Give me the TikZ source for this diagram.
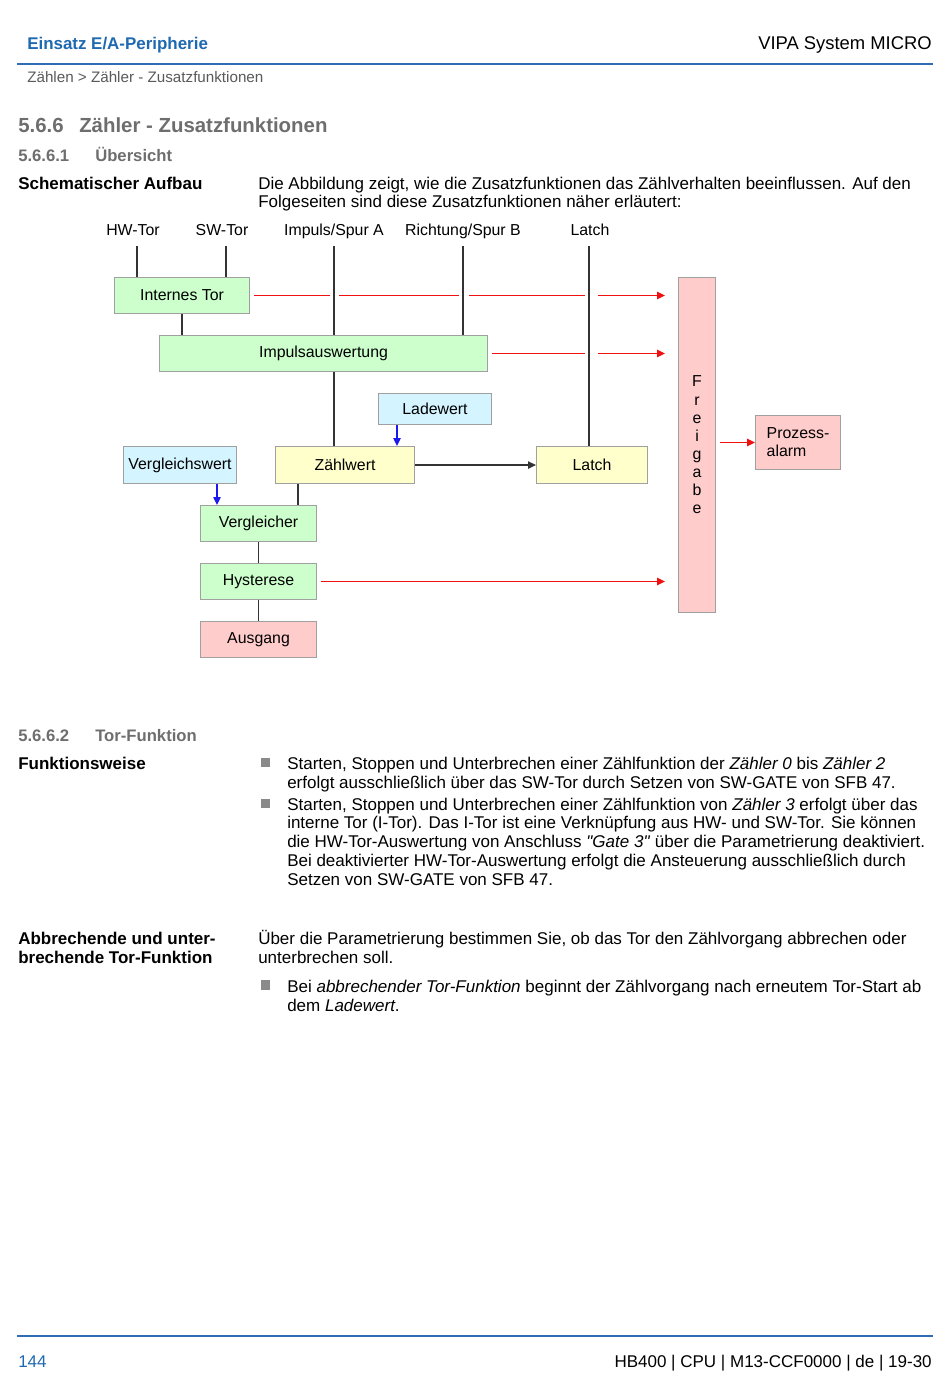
\documentclass[tikz,border=0pt]{standalone}
\usepackage{fontspec}
\setmainfont{Liberation Sans}
\usetikzlibrary{arrows.meta,calc}
\definecolor{hblue}{HTML}{1F69B0}
\definecolor{lblue}{HTML}{2F6DB5}
\definecolor{hgray}{HTML}{6E6E6E}
\definecolor{bcgray}{HTML}{5A5A5A}
\definecolor{bulgray}{HTML}{8A8A8A}
\definecolor{boxline}{HTML}{A0A0A0}
\definecolor{fgreen}{HTML}{CCFFCC}
\definecolor{fcyan}{HTML}{D4F5FF}
\definecolor{fyellow}{HTML}{FFFFCC}
\definecolor{fpink}{HTML}{FFCCCC}
\definecolor{redl}{HTML}{F01010}
\definecolor{bluel}{HTML}{1A1AEE}
\definecolor{darkl}{HTML}{333333}
\newcommand\bodyf{\fontsize{12.75}{14.25}\selectfont}
\newcommand\diagf{\fontsize{11.9}{13.5}\selectfont}
\begin{document}
\begin{tikzpicture}[x=0.75pt,y=-0.75pt,
  tx/.style={inner sep=0pt, font=\bodyf},
  bx/.style={draw=boxline, line width=0.8pt, inner sep=0pt, anchor=north west, font=\diagf, align=center},
  sz/.style 2 args={minimum width=#1*0.75pt, minimum height=#2*0.75pt},
  gbox/.style={bx, fill=fgreen},
  cbox/.style={bx, fill=fcyan},
  ybox/.style={bx, fill=fyellow},
  pbox/.style={bx, fill=fpink},
  ln/.style={draw=darkl, line width=0.9pt},
  redline/.style={draw=redl, line width=1.35pt},
  ra/.style={redline, -{Triangle[length=6pt,width=5.5pt]}},
  ba/.style={draw=bluel, line width=1pt, -{Triangle[length=6pt,width=5.5pt]}},
  ka/.style={ln, -{Triangle[length=6pt,width=5.5pt]}},
  lab/.style={inner sep=0pt, font=\diagf, anchor=base},
  bul/.style={fill=bulgray, inner sep=0pt, minimum size=7pt},
]
\useasboundingbox (0,0) rectangle (950,1375);
\fill[white] (0,0) rectangle (950,1375);

% header
\node[tx, anchor=base west, font=\fontsize{12.7}{15}\selectfont\bfseries, text=hblue] (hdl) at (27,49) {Einsatz E/A-Peripherie};
\node[tx, anchor=base east, font=\fontsize{13.8}{16}\selectfont] (hdr) at (932,49.5) {VIPA System MICRO};
\coordinate (hl1) at (17,64); \coordinate (hl2) at (933,64);
\draw[lblue, line width=1.5pt] (hl1) -- (hl2);
\node[tx, anchor=base west, font=\fontsize{11.4}{14}\selectfont, text=bcgray] (bc) at (27,82) {Zählen > Zähler - Zusatzfunktionen};

% headings
\node[tx, anchor=base west, font=\fontsize{15.3}{18}\selectfont\bfseries, text=hgray] (h1n) at (18,132) {5.6.6};
\node[tx, anchor=base west, font=\fontsize{15.3}{18}\selectfont\bfseries, text=hgray] (h1t) at (79,132) {Zähler - Zusatzfunktionen};
\node[tx, anchor=base west, font=\fontsize{12.5}{15}\selectfont\bfseries, text=hgray] (h2n) at (18,161) {5.6.6.1};
\node[tx, anchor=base west, font=\fontsize{12.5}{15}\selectfont\bfseries, text=hgray] (h2t) at (95,161) {Übersicht};

\node[tx, anchor=base west, font=\bodyf\bfseries] (sa) at (18,189) {Schematischer Aufbau};
\node[tx, anchor=base west] (p1a) at (258,189) {Die Abbildung zeigt, wie die Zusatzfunktionen das Zählverhalten beeinflussen. Auf den};
\node[tx, anchor=base west] (p1b) at (258,207) {Folgeseiten sind diese Zusatzfunktionen näher erläutert:};

% diagram labels
\node[lab] (lhw) at (133,235) {HW-Tor};
\node[lab] (lsw) at (222,235) {SW-Tor};
\node[lab] (limp) at (334,235) {Impuls/Spur A};
\node[lab] (lri) at (463,235) {Richtung/Spur B};
\node[lab] (llat) at (590,235) {Latch};

% boxes
\node[gbox, sz={135}{36}] (it) at (114,277) {Internes Tor};
\node[gbox, sz={328}{36}] (ia) at (159,335) {Impulsauswertung};
\node[cbox, sz={113}{31}] (lw) at (378,393) {Ladewert};
\node[cbox, sz={113}{37}] (vw) at (123,446) {Vergleichswert};
\node[ybox, sz={139}{37}] (zw) at (275,446) {Zählwert};
\node[ybox, sz={111}{37}] (la) at (536,446) {Latch};
\node[gbox, sz={116}{36}] (vg) at (200,505) {Vergleicher};
\node[gbox, sz={116}{36}] (hy) at (200,563) {Hysterese};
\node[pbox, sz={116}{36}] (ag) at (200,621) {Ausgang};
\node[pbox, sz={37}{335}, font=\fontsize{11.9}{13.6}\selectfont] (fr) at (678,277) {F\\r\\e\\i\\g\\a\\b\\e};
\node[pbox, sz={85}{54}, align=left, font=\fontsize{11.9}{13.5}\selectfont] (pa) at (755,415) {Prozess-\\alarm};

% input lines
\coordinate (hwt) at (137,246);
\coordinate (swt) at (226,246);
\coordinate (impt) at (334,246);
\coordinate (rit) at (463,246);
\coordinate (lat) at (589,246);
\draw[ln] (hwt) -- (hwt |- it.north);
\draw[ln] (swt) -- (swt |- it.north);
\draw[ln] (impt) -- (impt |- ia.north);
\draw[ln] (impt |- ia.south) -- (impt |- zw.north);
\draw[ln] (rit) -- (rit |- ia.north);
\draw[ln] (lat) -- (lat |- la.north);
\draw[ln] (it.south) -- (it.south |- ia.north);
\coordinate (zvx) at (298,0);
\draw[ln] (zvx |- zw.south) -- (zvx |- vg.north);
\draw[ln] (vg.south) -- (hy.north);
\draw[ln] (hy.south) -- (ag.north);
\draw[ka] (zw.east) -- (la.west);

% blue arrows
\coordinate (lwx) at (397,0);
\draw[ba] (lwx |- lw.south) -- (lwx |- zw.north);
\coordinate (vwx) at (217,0);
\draw[ba] (vwx |- vw.south) -- (vwx |- vg.north);

% red lines to Freigabe
\coordinate (fe1) at ($(fr.west |- it.east)+(-13,0)$);
\coordinate (fe2) at ($(fr.west |- ia.east)+(-13,0)$);
\coordinate (fe3) at ($(fr.west |- hy.east)+(-13,0)$);
\draw[redline] ($(it.east)+(4,0)$) -- ($(impt |- it.east)+(-4,0)$);
\draw[redline] ($(impt |- it.east)+(5,0)$) -- ($(rit |- it.east)+(-4,0)$);
\draw[redline] ($(rit |- it.east)+(6,0)$) -- ($(lat |- it.east)+(-4,0)$);
\draw[ra] ($(lat |- it.east)+(9,0)$) -- (fe1);
\draw[redline] ($(ia.east)+(4,0)$) -- ($(lat |- ia.east)+(-4,0)$);
\draw[ra] ($(lat |- ia.east)+(9,0)$) -- (fe2);
\draw[ra] ($(hy.east)+(4,0)$) -- (fe3);
\draw[ra] ($(fr.east |- pa.west)+(4,0)$) -- (pa.west);

% section 5.6.6.2
\node[tx, anchor=base west, font=\fontsize{12.5}{15}\selectfont\bfseries, text=hgray] (h3n) at (18,741) {5.6.6.2};
\node[tx, anchor=base west, font=\fontsize{12.5}{15}\selectfont\bfseries, text=hgray] (h3t) at (95,741) {Tor-Funktion};
\node[tx, anchor=base west, font=\bodyf\bfseries] (fw) at (18,769) {Funktionsweise};

\node[bul] (b1) at (265.5,762.5) {};
\node[tx, anchor=base west] (b1a) at (287,769) {Starten, Stoppen und Unterbrechen einer Zählfunktion der \textit{Zähler 0} bis \textit{Zähler 2}};
\node[tx, anchor=base west] (b1b) at (287,788) {erfolgt ausschließlich über das SW-Tor durch Setzen von SW-GATE von SFB 47.};

\node[bul] (b2) at (265.5,803.5) {};
\node[tx, anchor=base west] (b2a) at (287,810) {Starten, Stoppen und Unterbrechen einer Zählfunktion von \textit{Zähler 3} erfolgt über das};
\node[tx, anchor=base west] (b2b) at (287,828.5) {interne Tor (I-Tor). Das I-Tor ist eine Verknüpfung aus HW- und SW-Tor. Sie können};
\node[tx, anchor=base west] (b2c) at (287,847) {die HW-Tor-Auswertung von Anschluss \textit{\textquotedbl Gate 3\textquotedbl} über die Parametrierung deaktiviert.};
\node[tx, anchor=base west] (b2d) at (287,866) {Bei deaktivierter HW-Tor-Auswertung erfolgt die Ansteuerung ausschließlich durch};
\node[tx, anchor=base west] (b2e) at (287,885) {Setzen von SW-GATE von SFB 47.};

\node[tx, anchor=base west, font=\bodyf\bfseries] (ab1) at (18,944) {Abbrechende und unter-};
\node[tx, anchor=base west, font=\bodyf\bfseries] (ab2) at (18,963) {brechende Tor-Funktion};
\node[tx, anchor=base west] (pa1) at (258,944) {Über die Parametrierung bestimmen Sie, ob das Tor den Zählvorgang abbrechen oder};
\node[tx, anchor=base west] (pa2) at (258,963) {unterbrechen soll.};

\node[bul] (b3) at (265.5,985) {};
\node[tx, anchor=base west] (b3a) at (287,992) {Bei \textit{abbrechender Tor-Funktion} beginnt der Zählvorgang nach erneutem Tor-Start ab};
\node[tx, anchor=base west] (b3b) at (287,1011) {dem \textit{Ladewert}.};

% footer
\coordinate (fl1) at (17,1336); \coordinate (fl2) at (933,1336);
\draw[lblue, line width=1.5pt] (fl1) -- (fl2);
\node[tx, anchor=base west, text=hblue] (pg) at (18,1367) {144};
\node[tx, anchor=base east] (ft) at (932,1367) {HB400 | CPU | M13-CCF0000 | de | 19-30};
\end{tikzpicture}
\end{document}
